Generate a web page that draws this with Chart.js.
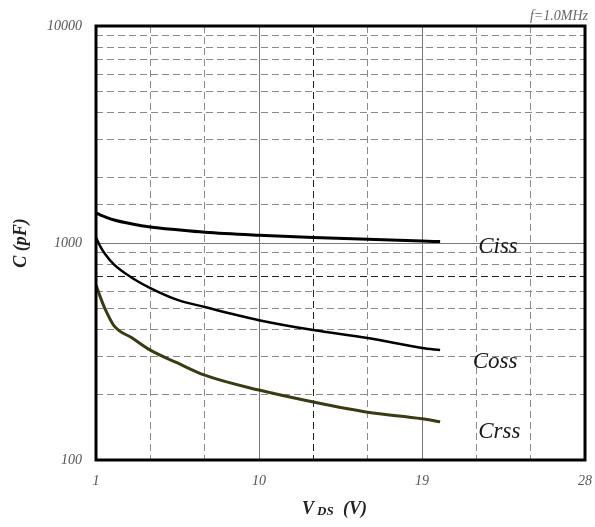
<!DOCTYPE html>
<html>
<head>
<meta charset="utf-8">
<script src="https://cdn.jsdelivr.net/npm/chart.js@4/dist/chart.umd.min.js"></script>
<style>
html,body{margin:0;padding:0;background:#fff;}
#wrap{position:relative;width:595px;height:527px;}
</style>
</head>
<body>
<div id="wrap"><canvas id="c" width="595" height="527"></canvas></div>
<script>
// ---- data ----
const vds  = [1, 1.25, 1.5, 2, 3, 4, 5.5, 7, 10, 13, 16, 19, 20];
const ciss = [1374, 1345, 1320, 1276, 1224, 1186, 1150, 1120, 1085, 1060, 1040, 1021, 1015];
const coss = [1060, 960, 890, 795, 690, 620, 547, 507, 441, 397, 365, 328, 321];
const crss = [640, 560, 497, 415, 365, 321, 280, 246, 210, 185, 166, 155, 150];
const seriesNames = ['Ciss', 'Coss', 'Crss'];
const xTickLabels = [1, 10, 19, 28];
const yTickLabels = [100, 1000, 10000];
const noteText = 'f=1.0MHz';
// label anchor positions in data units (x, y)
const labelAnchorX = [22.1, 21.8, 22.1];
const labelAnchorY = [899, 265, 126];

const pts = (ys) => vds.map((x, i) => ({x: x, y: ys[i]}));
const SERIF = '"Liberation Serif", "DejaVu Serif", serif';

const framePlugin = {
  id: 'frame',
  afterDatasetsDraw(chart) {
    const {ctx, chartArea: a, scales} = chart;
    ctx.save();
    ctx.strokeStyle = '#000';
    ctx.lineWidth = 3;
    ctx.strokeRect(a.left, a.top, a.right - a.left, a.bottom - a.top);
    // curve labels
    ctx.fillStyle = '#1a1a1a';
    ctx.font = 'italic 23px ' + SERIF;
    ctx.textAlign = 'left';
    ctx.textBaseline = 'alphabetic';
    seriesNames.forEach((n, i) => {
      ctx.fillText(n, scales.x.getPixelForValue(labelAnchorX[i]), scales.y.getPixelForValue(labelAnchorY[i]));
    });
    // note
    ctx.fillStyle = '#666';
    ctx.font = 'italic 14px ' + SERIF;
    ctx.textAlign = 'right';
    ctx.fillText(noteText, a.right + 3, a.top - 6);
    // x axis title with subscript
    ctx.fillStyle = '#222';
    ctx.textAlign = 'left';
    const y = 514;
    ctx.font = 'bold italic 18px ' + SERIF;
    ctx.fillText('V', 302, y);
    ctx.font = 'bold italic 13px ' + SERIF;
    ctx.fillText('DS', 317, y + 1);
    ctx.font = 'bold italic 18px ' + SERIF;
    ctx.fillText('(V)', 343, y);
    ctx.restore();
  }
};

new Chart(document.getElementById('c'), {
  type: 'line',
  data: {
    datasets: [
      {label: seriesNames[0], data: pts(ciss), borderColor: '#000', borderWidth: 3},
      {label: seriesNames[1], data: pts(coss), borderColor: '#000', borderWidth: 2.5},
      {label: seriesNames[2], data: pts(crss), borderColor: '#3b3b12', borderWidth: 3}
    ]
  },
  options: {
    responsive: false,
    animation: false,
    events: [],
    layout: {padding: {top: 26, right: 10, left: 0, bottom: 0}},
    elements: {point: {radius: 0}, line: {cubicInterpolationMode: 'monotone', fill: false}},
    plugins: {legend: {display: false}, tooltip: {enabled: false}},
    scales: {
      x: {
        type: 'linear', min: 1, max: 28,
        afterFit(s) { s.height = 67; s.paddingLeft = 0; s.paddingRight = 0; },
        ticks: {
          stepSize: 3, autoSkip: false, maxRotation: 0, padding: 13,
          color: '#555', font: {family: SERIF, style: 'italic', size: 14},
          callback: (v) => xTickLabels.includes(v) ? String(v) : ''
        },
        grid: {
          drawTicks: false,
          lineWidth: 1,
          color: (c) => {
            const v = c.tick && c.tick.value;
            if (v === 1 || v === 28) return 'rgba(0,0,0,0)';
            if (v === 10 || v === 19) return '#777';
            if (v === 13) return '#222';
            return '#8a8a8a';
          }
        },
        border: {
          display: false,
          dash: (c) => {
            const v = c.tick && c.tick.value;
            return (v === 10 || v === 19) ? [] : [7, 4];
          }
        }
      },
      y: {
        type: 'logarithmic', min: 100, max: 10000,
        afterFit(s) { s.width = 96; s.paddingTop = 0; s.paddingBottom = 0; },
        title: {
          display: true, text: 'C (pF)', color: '#222',
          font: {family: SERIF, style: 'italic', weight: 'bold', size: 18},
          padding: {top: 11, bottom: 0}
        },
        ticks: {
          autoSkip: false, padding: 14,
          color: '#555', font: {family: SERIF, style: 'italic', size: 14},
          callback: (v) => yTickLabels.includes(v) ? String(v) : ''
        },
        grid: {
          drawTicks: false,
          lineWidth: 1,
          color: (c) => {
            const v = c.tick && c.tick.value;
            if (v === 100 || v === 10000) return 'rgba(0,0,0,0)';
            if (v === 1000) return '#777';
            if (v === 700) return '#222';
            return '#8a8a8a';
          }
        },
        border: {
          display: false,
          dash: (c) => {
            const v = c.tick && c.tick.value;
            return v === 1000 ? [] : [7, 4];
          }
        }
      }
    }
  },
  plugins: [framePlugin]
});
</script>
</body>
</html>
